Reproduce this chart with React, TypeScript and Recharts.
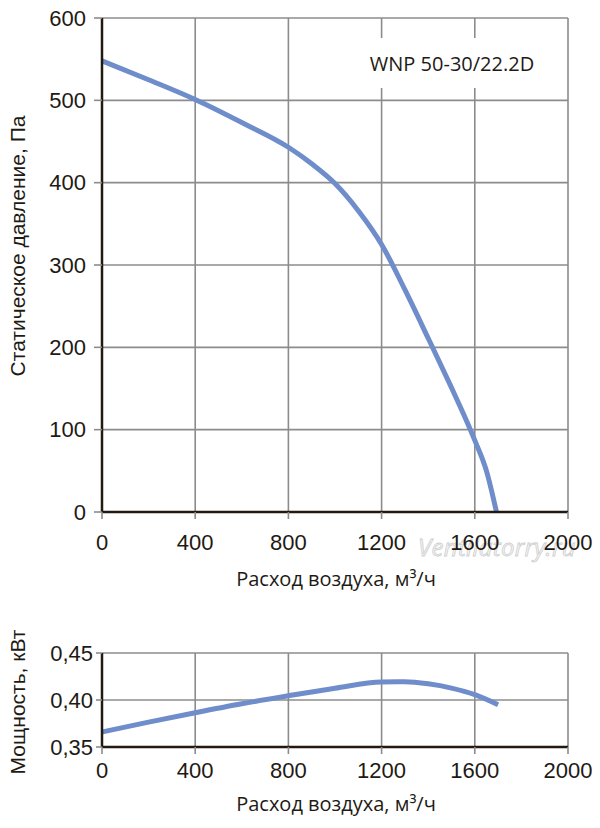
import React from 'react';
import { LineChart, Line, XAxis, YAxis, CartesianGrid, Label } from 'recharts';

const flowTicks = [0, 400, 800, 1200, 1600, 2000];
const pressureTicks = [0, 100, 200, 300, 400, 500, 600];
const powerTicks = [0.35, 0.4, 0.45];

const pressureFlow = [0, 200, 400, 600, 800, 900, 1000, 1100, 1200, 1300, 1400, 1500, 1550, 1600, 1650, 1693];
const pressureValues = [548, 525, 501, 473, 443, 423, 399, 366, 325, 270, 211, 151, 120, 87, 50, 0];

const powerFlow = [0, 200, 400, 600, 800, 1000, 1200, 1300, 1400, 1500, 1600, 1700];
const powerValues = [0.366, 0.3765, 0.3865, 0.396, 0.4045, 0.4125, 0.4192, 0.4194, 0.4172, 0.4127, 0.4057, 0.395];

const modelName = 'WNP 50-30/22.2D';
const flowTitle = 'Расход воздуха, м³/ч';
const pressureTitle = 'Статическое давление, Па';
const powerTitle = 'Мощность, кВт';
const watermark = 'Ventilatorry.ru';

const pressureData = pressureFlow.map((q, i) => ({ q, p: pressureValues[i] }));
const powerData = powerFlow.map((q, i) => ({ q, n: powerValues[i] }));

const LINE = '#6f8dcb';
const GRID = '#8c8c8c';
const AXIS = '#221a10';
const TEXT = '#1e1a14';
const TICK_FONT = '"Liberation Sans", Arial, sans-serif';
const TITLE_FONT = '"Open Sans", sans-serif';

const tickStyle = { fill: TEXT, fontSize: 22, fontFamily: TICK_FONT };

export default function App() {
  return (
    <div style={{ position: 'absolute', left: 0, top: 0, width: 600, height: 828, background: '#fff' }}>
      <div
        style={{
          position: 'absolute',
          left: 418,
          top: 532,
          fontFamily: TITLE_FONT,
          fontStyle: 'italic',
          fontSize: 24,
          lineHeight: '30px',
          color: '#f5f5f5',
          WebkitTextStroke: '0.8px #cfcfcf',
          letterSpacing: 0.3,
          pointerEvents: 'none',
        }}
      >
        {watermark}
      </div>
      <div style={{ position: 'absolute', left: 0, top: 0 }}>
        <LineChart width={600} height={600} data={pressureData} margin={{ top: 18, right: 32, left: 0, bottom: 0 }}>
          <CartesianGrid stroke={GRID} strokeWidth={1.6} />
          <XAxis
            dataKey="q"
            type="number"
            domain={[0, 2000]}
            ticks={flowTicks}
            height={88}
            axisLine={{ stroke: AXIS, strokeWidth: 2.5 }}
            tickLine={{ stroke: GRID, strokeWidth: 1.6 }}
            tickSize={7}
            tickMargin={15}
            tick={tickStyle}
            interval={0}
          >
            <Label
              content={() => (
                <text x={336} y={586} textAnchor="middle" fill={TEXT} fontSize={20} fontFamily={TITLE_FONT}>
                  {flowTitle}
                </text>
              )}
            />
          </XAxis>
          <YAxis
            type="number"
            domain={[0, 600]}
            ticks={pressureTicks}
            width={102}
            axisLine={{ stroke: AXIS, strokeWidth: 2.5 }}
            tickLine={{ stroke: GRID, strokeWidth: 1.6 }}
            tickSize={8}
            tickMargin={8}
            tick={tickStyle}
            interval={0}
          >
            <Label
              content={() => (
                <text
                  x={25}
                  y={246}
                  transform="rotate(-90 25 246)"
                  textAnchor="middle"
                  fill={TEXT}
                  fontSize={21}
                  fontFamily={TICK_FONT}
                >
                  {pressureTitle}
                </text>
              )}
            />
          </YAxis>
          <Line
            type="monotone"
            dataKey="p"
            stroke={LINE}
            strokeWidth={5}
            dot={false}
            isAnimationActive={false}
          />
        </LineChart>
      </div>
      <div
        style={{
          position: 'absolute',
          left: 354,
          top: 38,
          width: 196,
          height: 50,
          background: '#fff',
          display: 'flex',
          alignItems: 'center',
          justifyContent: 'center',
          fontFamily: TITLE_FONT,
          fontSize: 20,
          color: TEXT,
        }}
      >
        {modelName}
      </div>
      <div style={{ position: 'absolute', left: 0, top: 600 }}>
        <LineChart width={600} height={228} data={powerData} margin={{ top: 53, right: 32, left: 0, bottom: 0 }}>
          <CartesianGrid stroke={GRID} strokeWidth={1.6} />
          <XAxis
            dataKey="q"
            type="number"
            domain={[0, 2000]}
            ticks={flowTicks}
            height={81}
            axisLine={{ stroke: AXIS, strokeWidth: 2.5 }}
            tickLine={{ stroke: GRID, strokeWidth: 1.6 }}
            tickSize={7}
            tickMargin={8}
            tick={tickStyle}
            interval={0}
          >
            <Label
              content={() => (
                <text x={336} y={211} textAnchor="middle" fill={TEXT} fontSize={20} fontFamily={TITLE_FONT}>
                  {flowTitle}
                </text>
              )}
            />
          </XAxis>
          <YAxis
            type="number"
            domain={[0.35, 0.45]}
            ticks={powerTicks}
            width={102}
            axisLine={{ stroke: AXIS, strokeWidth: 2.5 }}
            tickLine={{ stroke: GRID, strokeWidth: 1.6 }}
            tickSize={6}
            tickMargin={3}
            tick={tickStyle}
            tickFormatter={(v: number) => v.toFixed(2).replace('.', ',')}
            interval={0}
          >
            <Label
              content={() => (
                <text
                  x={25}
                  y={102}
                  transform="rotate(-90 25 102)"
                  textAnchor="middle"
                  fill={TEXT}
                  fontSize={21}
                  fontFamily={TICK_FONT}
                >
                  {powerTitle}
                </text>
              )}
            />
          </YAxis>
          <Line
            type="monotone"
            dataKey="n"
            stroke={LINE}
            strokeWidth={5}
            dot={false}
            isAnimationActive={false}
          />
        </LineChart>
      </div>
    </div>
  );
}
